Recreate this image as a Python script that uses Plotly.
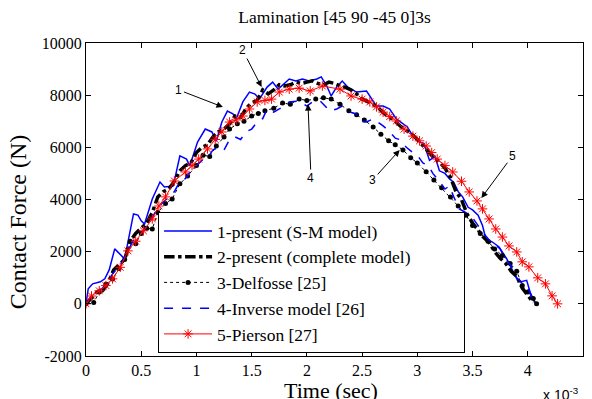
import plotly.graph_objects as go

# ---- data (time in units of 1e-3 s, force in N) ----
t_sm = [0, 0.02, 0.06, 0.13, 0.17, 0.21, 0.26, 0.31, 0.35, 0.43, 0.47, 0.50, 0.53, 0.60, 0.67, 0.71, 0.79, 0.85, 0.91, 0.94,
        1.01, 1.08, 1.14, 1.18, 1.23, 1.28, 1.33, 1.36, 1.42, 1.48, 1.53, 1.57, 1.64, 1.69, 1.74, 1.84, 1.90, 1.96, 2.02, 2.09,
        2.13, 2.18, 2.22, 2.27, 2.32, 2.37, 2.45, 2.54, 2.59, 2.63, 2.69, 2.75, 2.81, 2.87, 2.91, 2.96, 3.02, 3.06, 3.11, 3.16,
        3.20, 3.25, 3.29, 3.33, 3.37, 3.41, 3.46, 3.50, 3.55, 3.59, 3.62, 3.68, 3.74, 3.81, 3.84, 3.90, 3.93, 3.99, 4.02, 4.06, 4.08]
f_sm = [0, 575, 766, 843, 958, 1300, 2107, 1915, 1724, 3447, 3400, 3180, 3060, 4020, 4670, 4480, 4520, 5670, 5550, 5290,
        6200, 6700, 6590, 6240, 6970, 7390, 7280, 7090, 7740, 8120, 8040, 7850, 8310, 8500, 8230, 8620, 8540, 8620, 8540, 8620,
        8700, 8350, 7970, 8310, 8540, 8310, 8120, 8160, 7850, 7580, 7580, 7470, 7090, 6900, 6780, 6430, 6200, 6150, 5500, 5650,
        5100, 5000, 4800, 4650, 4300, 4100, 3700, 3600, 3400, 3000, 2500, 2370, 2180, 1720, 1460, 960, 840, 900, 460, 80, 0]

t_cm = [0, 0.05, 0.1, 0.15, 0.2, 0.25, 0.3, 0.35, 0.4, 0.45, 0.5, 0.55, 0.6, 0.65, 0.7, 0.75, 0.8, 0.85, 0.9, 0.95,
        1.0, 1.05, 1.1, 1.15, 1.2, 1.25, 1.3, 1.35, 1.4, 1.45, 1.5, 1.55, 1.6, 1.65, 1.7, 1.75, 1.8, 1.85, 1.9, 1.95,
        2.0, 2.05, 2.1, 2.15, 2.2, 2.25, 2.3, 2.35, 2.4, 2.45, 2.5, 2.55, 2.6, 2.65, 2.7, 2.75, 2.8, 2.85, 2.9, 2.95,
        3.0, 3.05, 3.1, 3.15, 3.2, 3.25, 3.3, 3.35, 3.4, 3.45, 3.5, 3.55, 3.6, 3.65, 3.7, 3.75, 3.8, 3.85, 3.9, 3.95,
        4.0, 4.05]
f_cm = [0, 250, 450, 500, 800, 1300, 1500, 1700, 2400, 2700, 2900, 3100, 3500, 4100, 4300, 4400, 4700, 5100, 5300, 5400,
        5800, 6000, 6100, 6400, 6600, 6700, 6900, 7200, 7150, 7500, 7700, 7800, 8200, 8050, 8200, 8400, 8350, 8400, 8500, 8450,
        8500, 8550, 8450, 8400, 8500, 8450, 8350, 8300, 8200, 8050, 7850, 7750, 7650, 7500, 7300, 7150, 7000, 6800, 6650, 6500,
        6300, 6050, 5850, 5600, 5450, 5200, 4850, 4300, 4000, 3450, 3100, 2800, 2550, 2350, 2000, 1750, 1550, 1250, 1050, 600,
        350, 50]

t_del = [0, 0.07, 0.12, 0.18, 0.24, 0.3, 0.35, 0.4, 0.45, 0.5, 0.55, 0.6, 0.65, 0.72, 0.78, 0.85, 0.92, 1.0, 1.06, 1.12,
         1.18, 1.25, 1.3, 1.37, 1.43, 1.5, 1.56, 1.62, 1.7, 1.78, 1.85, 1.93, 2.0, 2.08, 2.15, 2.22, 2.3, 2.38, 2.45, 2.52,
         2.6, 2.67, 2.74, 2.8, 2.87, 2.94, 3.0, 3.08, 3.15, 3.22, 3.3, 3.37, 3.44, 3.5, 3.57, 3.64, 3.7, 3.77, 3.84, 3.9,
         3.95, 4.0, 4.05, 4.08]
f_del = [0, 50, 450, 750, 950, 1350, 1700, 2400, 2300, 2700, 2900, 2870, 3500, 3850, 4020, 4600, 4900, 5300, 5700, 5650,
         6050, 6400, 6700, 6900, 7000, 7200, 7300, 7400, 7500, 7700, 7650, 7850, 7800, 7850, 7900, 7850, 7650, 7400, 7250, 7050,
         6780, 6500, 6250, 6100, 5900, 5600, 5400, 5060, 4750, 4450, 4100, 3750, 3400, 3000, 2700, 2400, 2100, 1850, 1550, 1250,
         700, 450, 200, 0]

t_inv = [0, 0.05, 0.1, 0.15, 0.2, 0.25, 0.3, 0.35, 0.4, 0.45, 0.5, 0.55, 0.6, 0.65, 0.7, 0.75, 0.8, 0.85, 0.9, 0.95,
         1.0, 1.05, 1.1, 1.15, 1.2, 1.25, 1.3, 1.35, 1.4, 1.45, 1.5, 1.55, 1.6, 1.64, 1.7, 1.75, 1.84, 1.93, 2.0, 2.05,
         2.12, 2.21, 2.27, 2.32, 2.39, 2.45, 2.48, 2.54, 2.6, 2.69, 2.75, 2.8, 2.84, 2.9, 2.96, 3.0, 3.05, 3.1, 3.14, 3.2,
         3.25, 3.29, 3.33, 3.38, 3.44, 3.5, 3.55, 3.6, 3.65, 3.7, 3.75, 3.8, 3.85, 3.9, 3.95, 4.0, 4.04, 4.06]
f_inv = [0, 300, 500, 600, 900, 1200, 1400, 1800, 2200, 2600, 2700, 3000, 3300, 3700, 3900, 4100, 4300, 4700, 4800, 5100,
         5300, 5500, 5600, 5900, 6000, 5900, 6300, 6400, 6300, 6600, 6700, 6970, 7100, 7470, 7350, 7470, 7740, 7780, 7580, 7740,
         7780, 7390, 7470, 7580, 7350, 7280, 7010, 6970, 7090, 6820, 6600, 6350, 6300, 6000, 5800, 5700, 5400, 5300, 5000, 4700,
         4400, 4520, 4100, 3640, 3500, 3300, 3000, 2700, 2450, 2300, 2100, 1700, 1450, 1000, 800, 650, 200, 0]

t_pie = [0, 0.05, 0.12, 0.18, 0.24, 0.31, 0.38, 0.45, 0.52, 0.6, 0.66, 0.72, 0.8, 0.9, 0.96, 1.02, 1.1, 1.17, 1.23, 1.3,
         1.36, 1.42, 1.48, 1.55, 1.62, 1.68, 1.75, 1.84, 1.93, 2.03, 2.14, 2.3, 2.4, 2.5, 2.57, 2.63, 2.69, 2.75, 2.81, 2.88,
         2.96, 3.02, 3.08, 3.13, 3.18, 3.25, 3.32, 3.4, 3.47, 3.54, 3.59, 3.65, 3.71, 3.77, 3.83, 3.9, 3.95, 4.01, 4.09, 4.16,
         4.22, 4.27]
f_pie = [0, 300, 500, 700, 958, 1400, 2030, 2400, 2800, 3255, 3750, 4100, 4710, 5055, 5300, 5550, 5940, 6300, 6590, 6970,
         7050, 7200, 7470, 7740, 7800, 7850, 8120, 8230, 8270, 8160, 8350, 8230, 7970, 7850, 7740, 7550, 7350, 7180, 7010, 6700,
         6430, 6250, 6050, 5800, 5550, 5300, 5055, 4700, 4290, 3945, 3640, 3255, 2870, 2560, 2220, 1990, 1610, 1417, 996, 766,
         306, 0]

names = ["1-present (S-M model)", "2-present (complete model)" + "\u00a0" * 11, "3-Delfosse [25]",
         "4-Inverse model [26]", "5-Pierson [27]"]

x_ticks = [0, 0.5, 1, 1.5, 2, 2.5, 3, 3.5, 4, 4.5]
x_tick_text = ["0", "0.5", "1", "1.5", "2", "2.5", "3", "3.5", "4", "4.5"]
y_ticks = [-2000, 0, 2000, 4000, 6000, 8000, 10000]
y_tick_text = ["-2000", "0", "2000", "4000", "6000", "8000", "10000"]

# arrow labels: (label, head t, head F, tail offset px)
arrows = [("1", 1.24, 7545, -44, -17), ("2", 1.59, 8311, -19, -37), ("4", 2.01, 7660, 3, 74),
          ("3", 2.84, 5898, -27, 30), ("5", 3.58, 4060, 31, -42)]

SERIF = "Liberation Serif"

fig = go.Figure()
fig.add_trace(go.Scatter(x=t_sm, y=f_sm, name=names[0], mode="lines",
                         line=dict(color="#0000FF", width=1.5)))
fig.add_trace(go.Scatter(x=t_cm, y=f_cm, name=names[1], mode="lines",
                         line=dict(color="black", width=3.5, dash="dashdot")))
fig.add_trace(go.Scatter(x=t_del, y=f_del, name=names[2], mode="lines+markers",
                         line=dict(color="black", width=1, dash="dot"),
                         marker=dict(color="black", size=5, symbol="circle")))
fig.add_trace(go.Scatter(x=t_inv, y=f_inv, name=names[3], mode="lines",
                         line=dict(color="#0000FF", width=1.5, dash="dash")))
fig.add_trace(go.Scatter(x=t_pie, y=f_pie, name=names[4], mode="lines+markers",
                         line=dict(color="red", width=1),
                         marker=dict(color="red", size=8, symbol="asterisk-open",
                                     line=dict(color="red", width=1))))

axis_common = dict(showline=True, linecolor="black", linewidth=1, mirror="ticks",
                   ticks="inside", ticklen=5, tickcolor="black", showgrid=False, zeroline=False,
                   tickfont=dict(family=SERIF, size=16, color="black"))

fig.update_xaxes(range=[0, 4.5], tickvals=x_ticks, ticktext=x_tick_text, **axis_common)
fig.update_yaxes(range=[-2000, 10000], tickvals=y_ticks, ticktext=y_tick_text, **axis_common)

annotations = []
for lab, hx, hy, ax, ay in arrows:
    annotations.append(dict(x=hx, y=hy, xref="x", yref="y", text=lab, showarrow=True,
                            ax=ax, ay=ay, arrowhead=2, arrowsize=1.3, arrowwidth=1,
                            arrowcolor="black", standoff=0,
                            font=dict(family="Liberation Sans", size=12, color="black")))
annotations.append(dict(text="Contact Force (N)", xref="paper", yref="paper", x=-0.135, y=0.43,
                        textangle=-90, showarrow=False, xanchor="center", yanchor="middle",
                        font=dict(family=SERIF, size=24, color="black")))
annotations.append(dict(text="Time (sec)", xref="paper", yref="paper", x=0.493, y=-0.065,
                        showarrow=False, xanchor="center", yanchor="top",
                        font=dict(family=SERIF, size=22, color="black")))
annotations.append(dict(text="x 10<sup>-3</sup>", xref="paper", yref="paper", x=0.956, y=-0.085,
                        showarrow=False, xanchor="center", yanchor="top",
                        font=dict(family="Liberation Sans", size=14, color="black")))

fig.update_layout(
    width=592, height=399,
    margin=dict(l=86, r=9, t=43, b=43),
    paper_bgcolor="white", plot_bgcolor="white",
    title=dict(text="Lamination [45 90 -45 0]3s", x=0.565, xanchor="center", y=0.957, yanchor="middle",
               font=dict(family=SERIF, size=17.5, color="black")),
    legend=dict(x=0.145, y=0.46, xanchor="left", yanchor="top", bgcolor="white",
                bordercolor="black", borderwidth=1, itemwidth=48,
                font=dict(family=SERIF, size=17.5, color="black")),
    annotations=annotations,
    showlegend=True,
)

fig.write_html("out.html")
